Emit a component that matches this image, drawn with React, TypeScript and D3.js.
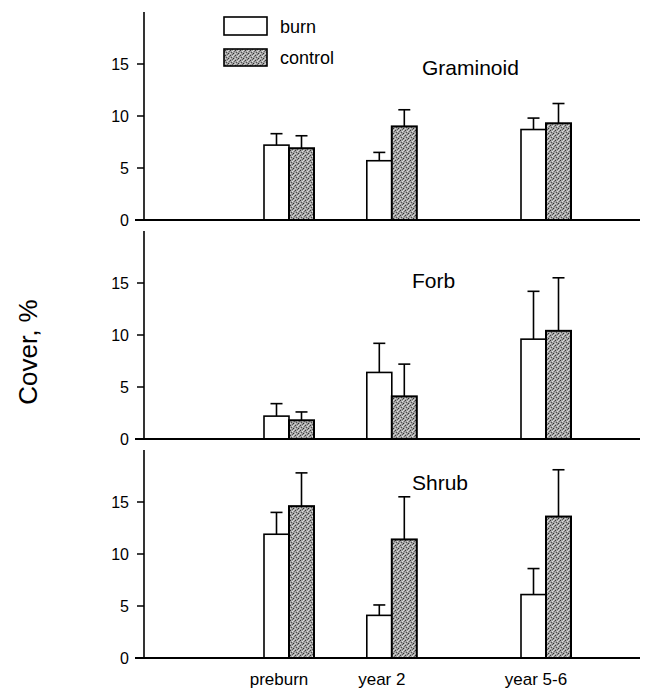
import React from 'react'
import * as d3 from 'd3'

const width = 648;
const height = 696;

// groups and their position in years after burn
const periods = ['preburn', 'year 2', 'year 5-6'];
const periodYear = [0, 2, 5];

const panels = ['Graminoid', 'Forb', 'Shrub'];

// mean cover, %
const burnMean = [
  [7.2, 5.7, 8.7],
  [2.2, 6.4, 9.6],
  [11.9, 4.1, 6.1],
];
const controlMean = [
  [6.9, 9.0, 9.3],
  [1.8, 4.1, 10.4],
  [14.6, 11.4, 13.6],
];
// upper error (mean + se)
const burnErr = [
  [8.3, 6.5, 9.8],
  [3.4, 9.2, 14.2],
  [14.0, 5.1, 8.6],
];
const controlErr = [
  [8.1, 10.6, 11.2],
  [2.6, 7.2, 15.5],
  [17.8, 15.5, 18.1],
];

const yTicks = [0, 5, 10, 15];

const font = 'Liberation Sans, Arial, sans-serif';
const axisLeft = 144;
const panelBase = [220, 439, 658];
const titlePos = [[422, 75], [412, 288], [412, 490]];
const panelH = 208;
const barW = 25;
const capW = 12;

const xScale = d3.scaleLinear().domain([0, 5]).range([289, 546]);

function Panel({i}: {i: number}) {
  const base = panelBase[i];
  const y = d3.scaleLinear().domain([0, 20]).range([base, base - panelH]);
  const rows = periods.map((p, j) => ({
    p,
    cx: xScale(periodYear[j]),
    burn: burnMean[i][j],
    control: controlMean[i][j],
    burnE: burnErr[i][j],
    controlE: controlErr[i][j],
  }));
  return (
    <g>
      {/* error bars first so the bars sit on top */}
      {rows.map(r => (
        <g key={r.p + 'e'} stroke="#000" strokeWidth={1.6}>
          <line x1={r.cx - barW / 2} x2={r.cx - barW / 2} y1={y(r.burn)} y2={y(r.burnE)} />
          <line x1={r.cx - barW / 2 - capW / 2} x2={r.cx - barW / 2 + capW / 2} y1={y(r.burnE)} y2={y(r.burnE)} />
          <line x1={r.cx + barW / 2} x2={r.cx + barW / 2} y1={y(r.control)} y2={y(r.controlE)} />
          <line x1={r.cx + barW / 2 - capW / 2} x2={r.cx + barW / 2 + capW / 2} y1={y(r.controlE)} y2={y(r.controlE)} />
        </g>
      ))}
      {rows.map(r => (
        <g key={r.p}>
          <rect x={r.cx - barW} y={y(r.burn)} width={barW} height={base - y(r.burn)}
            fill="#fff" stroke="#000" strokeWidth={1.6} />
          <rect x={r.cx} y={y(r.control)} width={barW} height={base - y(r.control)}
            fill="url(#stipple)" stroke="#000" strokeWidth={2} />
        </g>
      ))}
      {/* axes */}
      <line x1={axisLeft} x2={axisLeft} y1={y(20)} y2={base} stroke="#000" strokeWidth={1.6} />
      <line x1={axisLeft - 9} x2={644} y1={base} y2={base} stroke="#000" strokeWidth={2} />
      {yTicks.map(t => (
        <g key={t}>
          {t > 0 && <line x1={axisLeft - 7} x2={axisLeft} y1={y(t)} y2={y(t)} stroke="#000" strokeWidth={1.5} />}
          <text x={129} y={y(t)} dy="0.36em" textAnchor="end" fontSize={16} fontFamily={font}>{t}</text>
        </g>
      ))}
      <text x={titlePos[i][0]} y={titlePos[i][1]} fontSize={21} fontFamily={font}>{panels[i]}</text>
    </g>
  );
}

export default function App() {
  return (
    <svg width={width} height={height} style={{display: 'block', margin: '-8px'}}>
      <defs>
        <pattern id="stipple" width={5} height={5} patternUnits="userSpaceOnUse">
          <rect width={5} height={5} fill="#a4a4a4" />
          <rect x={0} y={0} width={1} height={1} fill="#3a3a3a" />
          <rect x={2} y={1} width={1} height={1} fill="#e0e0e0" />
          <rect x={1} y={2} width={1} height={1} fill="#505050" />
          <rect x={3} y={3} width={1} height={1} fill="#2e2e2e" />
          <rect x={4} y={1} width={1} height={1} fill="#6a6a6a" />
          <rect x={0} y={3} width={1} height={1} fill="#d2d2d2" />
          <rect x={4} y={4} width={1} height={1} fill="#c8c8c8" />
          <rect x={2} y={4} width={1} height={1} fill="#606060" />
          <rect x={3} y={0} width={1} height={1} fill="#dadada" />
        </pattern>
      </defs>
      <rect width={width} height={height} fill="#fff" />
      {panels.map((p, i) => <Panel key={p} i={i} />)}

      {/* legend */}
      <rect x={224} y={17} width={43} height={18} fill="#fff" stroke="#000" strokeWidth={1.6} />
      <text x={280} y={33} fontSize={18} fontFamily={font}>burn</text>
      <rect x={224} y={49} width={43} height={17} fill="url(#stipple)" stroke="#000" strokeWidth={1.6} />
      <text x={280} y={64} fontSize={18} fontFamily={font}>control</text>

      {/* x labels */}
      {periods.map((p, j) => (
        <text key={p} x={xScale(periodYear[j]) - 10} y={685} textAnchor="middle" fontSize={17} fontFamily={font}>{p}</text>
      ))}

      <text transform="rotate(-90)" x={-352} y={37} textAnchor="middle" fontSize={26} fontFamily={font}>Cover, %</text>
    </svg>
  );
}
